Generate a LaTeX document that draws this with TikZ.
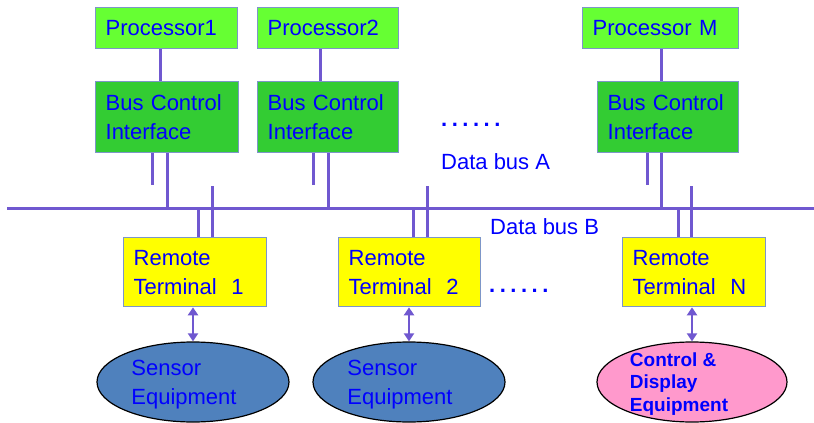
\documentclass[tikz,border=0pt]{standalone}
\usepackage{fontspec}
\setmainfont{Liberation Sans}
\usetikzlibrary{arrows.meta,shapes.geometric}
\definecolor{procg}{RGB}{102,255,51}
\definecolor{bcig}{RGB}{51,204,51}
\definecolor{rty}{RGB}{255,255,0}
\definecolor{bord}{RGB}{125,150,200}
\definecolor{busc}{RGB}{112,88,208}
\definecolor{txtb}{RGB}{0,0,255}
\definecolor{eqb}{RGB}{79,129,189}
\definecolor{eqp}{RGB}{255,153,204}
\begin{document}
\begin{tikzpicture}[x=1pt,y=-1pt,
  box/.style={draw=bord, line width=1.3pt, anchor=north west, inner xsep=10pt, inner ysep=0pt,
    align=left, text=txtb, font=\fontsize{22}{29}\selectfont},
  procbox/.style={box, fill=procg, minimum height=41pt},
  bcibox/.style={box, fill=bcig, minimum height=71pt},
  rtbox/.style={box, fill=rty, minimum height=69pt},
  equip/.style={ellipse, draw=black, line width=1.2pt, minimum height=80pt, inner sep=0pt},
  eqtext/.style={align=left, text=txtb, inner sep=0pt, font=\fontsize{22}{29}\selectfont},
  eqbold/.style={align=left, text=txtb, inner sep=0pt, font=\fontsize{19}{22.5}\selectfont\bfseries},
  lbl/.style={anchor=west, text=txtb, inner sep=0pt, font=\fontsize{22}{29}\selectfont},
  dots/.style={anchor=west, text=txtb, inner sep=0pt, font=\fontsize{22}{24}\selectfont\bfseries},
  busline/.style={draw=busc, line width=3pt},
  link/.style={draw=busc, line width=3pt},
  biarrow/.style={draw=busc, line width=2.6pt, {Triangle[length=8pt,width=10pt]}-{Triangle[length=8pt,width=10pt]}}]
\useasboundingbox (0,0) rectangle (814,423);

% processors
\node[procbox, text width=122pt] (p1) at (95,7) {Processor1};
\node[procbox, text width=121pt] (p2) at (257,7) {Processor2};
\node[procbox, text width=136pt] (pm) at (582,7) {Processor M};

% bus control interfaces
\node[bcibox, text width=123pt] (b1) at (95,81) {Bus Control\\Interface};
\node[bcibox, text width=121pt] (b2) at (257,81) {Bus Control\\Interface};
\node[bcibox, text width=121pt] (bm) at (597,81) {Bus Control\\Interface};

% remote terminals
\node[rtbox, text width=123pt] (r1) at (123,237) {Remote\\Terminal\ \ 1};
\node[rtbox, text width=122pt] (r2) at (338,237) {Remote\\Terminal\ \ 2};
\node[rtbox, text width=123pt] (rn) at (622,237) {Remote\\Terminal\ \ N};

% equipment
\node[equip, fill=eqb, minimum width=192pt] (e1) at (193,382) {};
\node[equip, fill=eqb, minimum width=192pt] (e2) at (409,382) {};
\node[equip, fill=eqp, minimum width=190pt] (e3) at (692,382) {};
\node[eqtext] (t1) at (184,385) {Sensor\\Equipment};
\node[eqtext] (t2) at (400,385) {Sensor\\Equipment};
\node[eqbold] (t3) at (679,384) {Control \&\\Display\\Equipment};

% labels
\node[dots] (d1) at (441,125) {.\hspace{4.5pt}.\hspace{4.5pt}.\hspace{4.5pt}.\hspace{4.5pt}.\hspace{4.5pt}.};
\node[dots] (d2) at (489,291) {.\hspace{4.5pt}.\hspace{4.5pt}.\hspace{4.5pt}.\hspace{4.5pt}.\hspace{4.5pt}.};
\node[lbl] (la) at (441,162) {Data bus A};
\node[lbl] (lb) at (490,227) {Data bus B};

% coordinates
\coordinate (busL) at (7,208);
\coordinate (busR) at (814,208);
\coordinate (c1) at (160,0);
\coordinate (c2) at (320,0);
\coordinate (cm) at (661,0);
\coordinate (a1) at (152,185);
\coordinate (g1) at (167,208);
\coordinate (h1) at (198,208);
\coordinate (k1) at (212,186);
\coordinate (a2) at (313,185);
\coordinate (g2) at (328,208);
\coordinate (h2) at (413,208);
\coordinate (k2) at (427,186);
\coordinate (am) at (647,185);
\coordinate (gm) at (661,208);
\coordinate (hn) at (678,208);
\coordinate (kn) at (691,186);

% processor links
\draw[link] (p1.south -| c1) -- (b1.north -| c1);
\draw[link] (p2.south -| c2) -- (b2.north -| c2);
\draw[link] (pm.south -| cm) -- (bm.north -| cm);

% bus
\draw[busline] (busL) -- (busR);
\draw[busline] (b1.south -| a1) -- (a1);
\draw[busline] (b1.south -| g1) -- (g1);
\draw[busline] (h1) -- (r1.north -| h1);
\draw[busline] (k1) -- (r1.north -| k1);
\draw[busline] (b2.south -| a2) -- (a2);
\draw[busline] (b2.south -| g2) -- (g2);
\draw[busline] (h2) -- (r2.north -| h2);
\draw[busline] (k2) -- (r2.north -| k2);
\draw[busline] (bm.south -| am) -- (am);
\draw[busline] (bm.south -| gm) -- (gm);
\draw[busline] (hn) -- (rn.north -| hn);
\draw[busline] (kn) -- (rn.north -| kn);

% arrows
\draw[biarrow] (e1.north |- r1.south) -- (e1.north);
\draw[biarrow] (e2.north |- r2.south) -- (e2.north);
\draw[biarrow] (e3.north |- rn.south) -- (e3.north);
\end{tikzpicture}
\end{document}
